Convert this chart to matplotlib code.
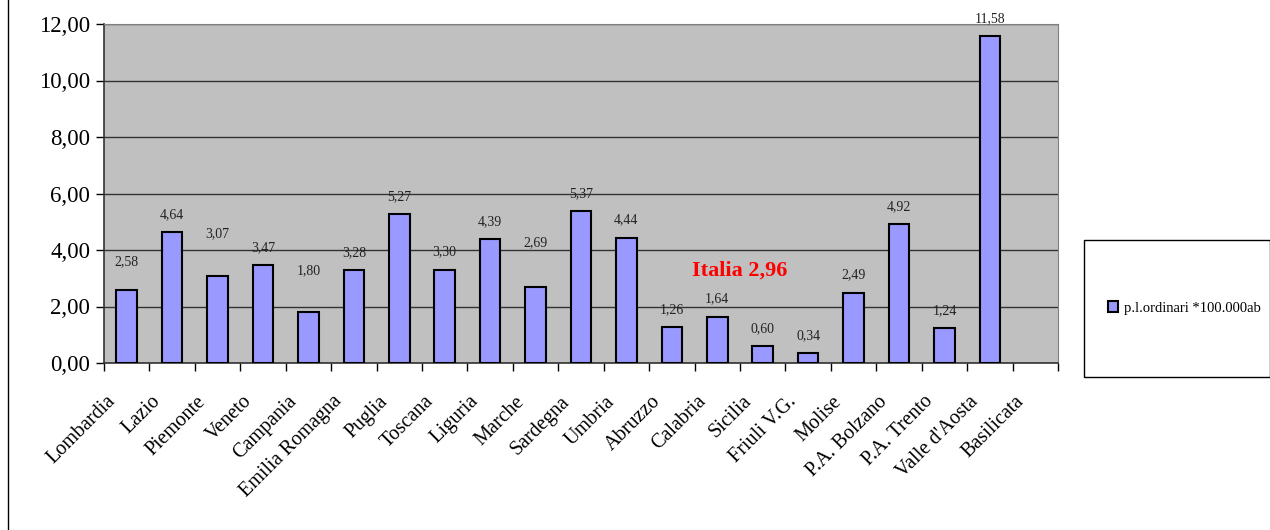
import matplotlib.pyplot as plt
from matplotlib.patches import Rectangle
from matplotlib.lines import Line2D
from matplotlib.transforms import ScaledTranslation

regioni = ["Lombardia", "Lazio", "Piemonte", "Veneto", "Campania", "Emilia Romagna",
           "Puglia", "Toscana", "Liguria", "Marche", "Sardegna", "Umbria", "Abruzzo",
           "Calabria", "Sicilia", "Friuli V.G.", "Molise", "P.A. Bolzano", "P.A. Trento",
           "Valle d'Aosta", "Basilicata"]
valori = [2.58, 4.64, 3.07, 3.47, 1.80, 3.28, 5.27, 3.30, 4.39, 2.69, 5.37, 4.44, 1.26,
          1.64, 0.60, 0.34, 2.49, 4.92, 1.24, 11.58, None]
italia = 2.96
serie = "p.l.ordinari *100.000ab"

# extra lift of some value labels (points), as in the original
extra = [8, 0, 18, 0, 17, 0, 0, 0, 0, 19, 0, 0, 0, 0, 0, 0, 0, 0, 0, 0, 0]

plt.rcParams['font.family'] = ['Liberation Serif', 'DejaVu Serif']

fig = plt.figure(figsize=(12.7, 5.3), dpi=100)
ax = fig.add_axes([104 / 1270, 1 - 363 / 530, (1058 - 104) / 1270, (363 - 24) / 530])
ax.set_facecolor("#C0C0C0")

x = list(range(len(regioni)))
for i, v in enumerate(valori):
    if v is None:
        continue
    ax.bar(i, v, width=0.45, color="#9999FF", edgecolor="black", linewidth=1.5, zorder=3,
           label=serie if i == 0 else None)
    ax.annotate(f"{v:.2f}".replace(".", ","), (i, v), xytext=(0, 8 + extra[i]),
                textcoords="offset points", ha="center", va="bottom", fontsize=10,
                color="#222222")

ax.set_xlim(-0.5, len(regioni) - 0.5)
ax.set_ylim(0, 12)
ax.set_yticks([0, 2, 4, 6, 8, 10, 12])
ax.set_yticklabels([f"{t:.2f}".replace(".", ",") for t in [0, 2, 4, 6, 8, 10, 12]], fontsize=16.5)
ax.yaxis.grid(True, color="#333333", linewidth=1)
ax.set_axisbelow(True)
ax.tick_params(axis="y", length=6, width=1, pad=4)

ax.set_xticks(x)
ax.set_xticklabels(regioni, rotation=45, ha="right", rotation_mode="anchor", fontsize=14.5)
ax.tick_params(axis="x", which="major", length=0, pad=21)
shift = ScaledTranslation(-21 / 100, 0, fig.dpi_scale_trans)
for lab in ax.get_xticklabels():
    lab.set_transform(lab.get_transform() + shift)
ax.set_xticks([i - 0.5 for i in range(len(regioni) + 1)], minor=True)
ax.tick_params(axis="x", which="minor", length=6, width=1)

for s in ["top", "right"]:
    ax.spines[s].set_color("#808080")
for s in ["left", "bottom"]:
    ax.spines[s].set_color("#333333")
    ax.spines[s].set_linewidth(1.2)

ax.text(13.5, 3.26, "Italia " + f"{italia:.2f}".replace(".", ","), color="red",
        fontsize=16, fontweight="bold", ha="center", va="center")

# legend box on the right
fig.add_artist(Rectangle((1084 / 1270, 1 - 377 / 530), 186 / 1270, 137 / 530,
                         transform=fig.transFigure, facecolor="white",
                         edgecolor="black", linewidth=1))
h, l = ax.get_legend_handles_labels()
fig.legend(h, l, loc="center", bbox_to_anchor=(1184 / 1270, 1 - 308 / 530),
           frameon=False, fontsize=10.5, handlelength=0.7, handleheight=0.7,
           handletextpad=0.4)

# left border
fig.add_artist(Line2D([8 / 1270, 8 / 1270], [0, 1], transform=fig.transFigure,
                      color="black", linewidth=1))

fig.savefig("out.png", dpi=100)
